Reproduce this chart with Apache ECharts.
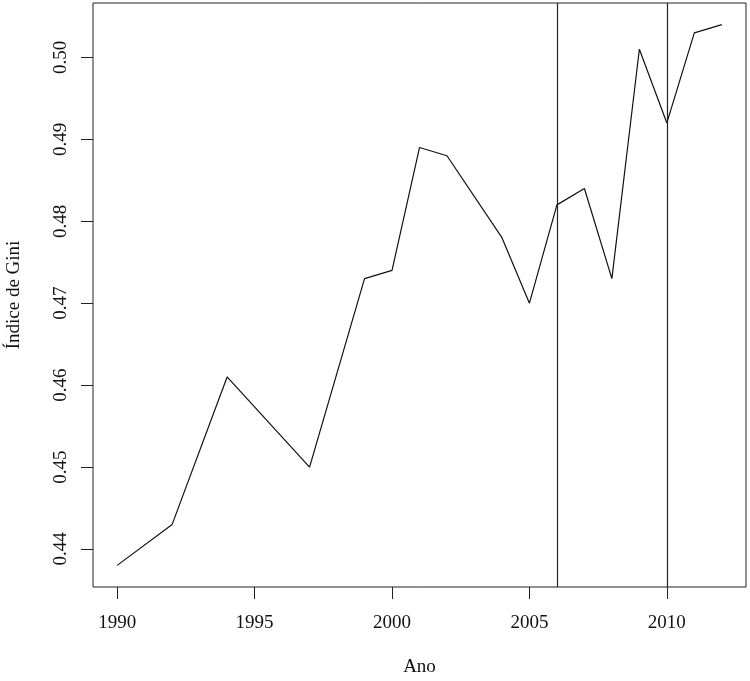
<!DOCTYPE html>
<html>
<head>
<meta charset="utf-8">
<script src="https://cdn.jsdelivr.net/npm/echarts@6/dist/echarts.min.js"></script>
<style>html,body{margin:0;padding:0;background:#fff}#c{width:750px;height:681px}</style>
</head>
<body>
<div id="c"></div>
<script>
const years = [1990, 1992, 1994, 1997, 1999, 2000, 2001, 2002, 2004, 2005, 2006, 2007, 2008, 2009, 2010, 2011, 2012];
const gini = [0.438, 0.443, 0.461, 0.450, 0.473, 0.474, 0.489, 0.488, 0.478, 0.470, 0.482, 0.484, 0.473, 0.501, 0.492, 0.503, 0.504];
const xTicks = [1990, 1995, 2000, 2005, 2010];
const yTicks = [0.44, 0.45, 0.46, 0.47, 0.48, 0.49, 0.50];
const vLines = [2006, 2010];
const xName = 'Ano';
const yName = 'Índice de Gini';

const xPad = (Math.max(...years) - Math.min(...years)) * 0.04;
const yPad = (Math.max(...gini) - Math.min(...gini)) * 0.04;
const font = "'Liberation Serif', 'Times New Roman', serif";

const chart = echarts.init(document.getElementById('c'), null, {renderer: 'canvas'});
chart.setOption({
  animation: false,
  backgroundColor: '#fff',
  grid: {left: 93, right: 4, top: 3, bottom: 94, show: true, borderColor: '#222', borderWidth: 1, containLabel: false, outerBoundsMode: 'none'},
  xAxis: {
    type: 'value',
    min: Math.min(...years) - xPad,
    max: Math.max(...years) + xPad,
    name: xName,
    nameLocation: 'middle',
    nameGap: 71,
    nameTextStyle: {fontFamily: font, fontSize: 19, color: '#111'},
    axisLine: {show: false},
    splitLine: {show: false},
    axisTick: {show: true, inside: false, length: 12, customValues: xTicks, lineStyle: {color: '#222', width: 1}},
    axisLabel: {customValues: xTicks, margin: 27, fontFamily: font, fontSize: 19, color: '#111', formatter: v => String(v)}
  },
  yAxis: {
    type: 'value',
    min: Math.min(...gini) - yPad,
    max: Math.max(...gini) + yPad,
    name: yName,
    nameLocation: 'middle',
    nameGap: 69,
    nameRotate: 90,
    nameTextStyle: {fontFamily: font, fontSize: 19, color: '#111'},
    axisLine: {show: false},
    splitLine: {show: false},
    axisTick: {show: true, inside: false, length: 12, customValues: yTicks, lineStyle: {color: '#222', width: 1}},
    axisLabel: {customValues: yTicks, rotate: 90, margin: 22, fontFamily: font, fontSize: 19, color: '#111', formatter: v => v.toFixed(2)}
  },
  series: [{
    type: 'line',
    data: years.map((y, i) => [y, gini[i]]),
    showSymbol: false,
    lineStyle: {color: '#111', width: 1.2},
    markLine: {
      silent: true,
      symbol: 'none',
      label: {show: false},
      lineStyle: {color: '#222', width: 1.2, type: 'solid'},
      data: vLines.map(v => ({xAxis: v}))
    }
  }]
});
</script>
</body>
</html>
